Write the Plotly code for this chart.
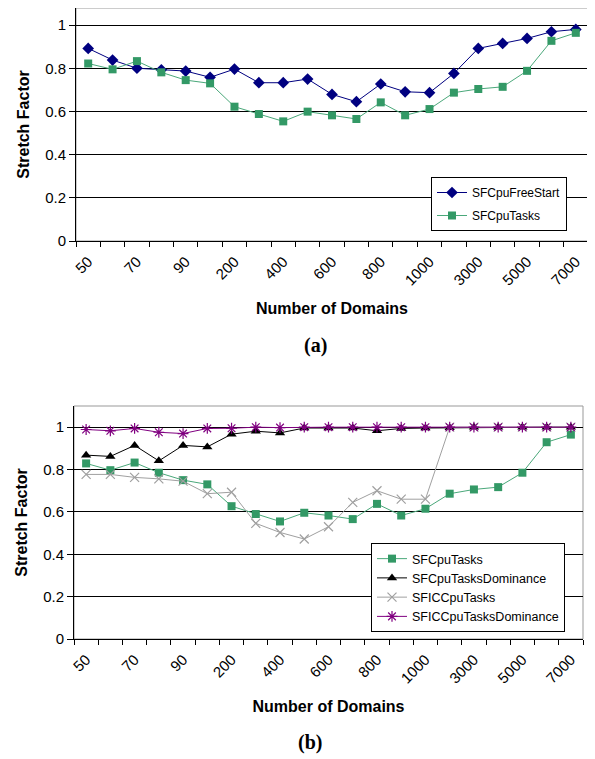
import plotly.graph_objects as go

domains = ["50", "60", "70", "80", "90", "100", "200", "300", "400", "500", "600",
           "700", "800", "900", "1000", "2000", "3000", "4000", "5000", "6000", "7000"]

# (a)
sf_cpu_free_start = [0.892, 0.838, 0.800, 0.793, 0.787, 0.758, 0.796, 0.733, 0.733, 0.750, 0.679,
                     0.645, 0.727, 0.691, 0.687, 0.776, 0.892, 0.915, 0.938, 0.969, 0.980]
sf_cpu_tasks_a = [0.822, 0.795, 0.833, 0.781, 0.745, 0.730, 0.622, 0.588, 0.554, 0.599, 0.582,
                  0.565, 0.642, 0.582, 0.611, 0.687, 0.704, 0.714, 0.788, 0.927, 0.964]

# (b)
sf_cpu_tasks_b = [0.829, 0.797, 0.833, 0.785, 0.750, 0.730, 0.627, 0.590, 0.555, 0.596, 0.583,
                  0.566, 0.638, 0.583, 0.615, 0.686, 0.706, 0.717, 0.785, 0.929, 0.965]
sf_cpu_tasks_dom = [0.868, 0.862, 0.914, 0.841, 0.914, 0.907, 0.967, 0.981, 0.973, 0.996, 0.996,
                    0.996, 0.983, 0.994, 0.996, 0.997, 1.0, 1.0, 1.0, 1.0, 1.0]
sfic_cpu_tasks = [0.777, 0.777, 0.763, 0.756, 0.745, 0.686, 0.693, 0.546, 0.503, 0.472, 0.530,
                  0.645, 0.700, 0.660, 0.660, 1.0, 1.0, 1.0, 1.0, 1.0, 1.0]
sfic_cpu_tasks_dom = [0.989, 0.983, 0.994, 0.976, 0.970, 0.994, 0.995, 1.0, 0.998, 1.0, 1.0,
                      1.0, 1.0, 1.0, 1.0, 1.0, 1.0, 1.0, 1.0, 1.0, 1.0]

y_ticks = [0, 0.2, 0.4, 0.6, 0.8, 1]
y_ticktext = ["0", "0.2", "0.4", "0.6", "0.8", "1"]

idx = list(range(len(domains)))
FONT = "Liberation Sans, Arial, sans-serif"
SERIF = "Liberation Serif, Times New Roman, serif"

NAVY = "#000080"
GREEN = "#339966"
GREEN_L = "#4aa87a"
GRAY = "#a0a0a0"
PURPLE = "#800080"

fig = go.Figure()

# Subplot (a)
fig.add_trace(go.Scatter(x=idx, y=sf_cpu_free_start, name="SFCpuFreeStart", mode="lines+markers",
                         line=dict(color=NAVY, width=1), marker=dict(symbol="diamond", size=9, color=NAVY),
                         xaxis="x", yaxis="y", legend="legend", legendgroup="a1"))
fig.add_trace(go.Scatter(x=idx, y=sf_cpu_tasks_a, name="SFCpuTasks", mode="lines+markers",
                         line=dict(color=GREEN_L, width=1), marker=dict(symbol="square", size=8, color=GREEN),
                         xaxis="x", yaxis="y", legend="legend", legendgroup="a2"))

# Subplot (b)
fig.add_trace(go.Scatter(x=idx, y=sf_cpu_tasks_b, name="SFCpuTasks", mode="lines+markers",
                         line=dict(color=GREEN_L, width=1), marker=dict(symbol="square", size=8, color=GREEN),
                         xaxis="x2", yaxis="y2", legend="legend2"))
fig.add_trace(go.Scatter(x=idx, y=sf_cpu_tasks_dom, name="SFCpuTasksDominance", mode="lines+markers",
                         line=dict(color="black", width=1), marker=dict(symbol="triangle-up", size=9, color="black"),
                         xaxis="x2", yaxis="y2", legend="legend2"))
fig.add_trace(go.Scatter(x=idx, y=sfic_cpu_tasks, name="SFICCpuTasks", mode="lines+markers",
                         line=dict(color=GRAY, width=1),
                         marker=dict(symbol="x-thin-open", size=9, color=GRAY, line=dict(color=GRAY, width=1.2)),
                         xaxis="x2", yaxis="y2", legend="legend2"))
fig.add_trace(go.Scatter(x=idx, y=sfic_cpu_tasks_dom, name="SFICCpuTasksDominance", mode="lines+markers",
                         line=dict(color=PURPLE, width=1),
                         marker=dict(symbol="asterisk-open", size=9, color=PURPLE, line=dict(color=PURPLE, width=1.2)),
                         xaxis="x2", yaxis="y2", legend="legend2"))

# page body has an 8px margin; figure is sized/positioned to compensate
OFF = 8
W, H = 595 - OFF, 759 - OFF


def px(x):
    return (x - OFF) / W


def py(y):
    return (H - (y - OFF)) / H


def xaxis_cfg(x0, x1, anchor):
    return dict(domain=[px(x0), px(x1)], anchor=anchor, range=[-0.5, len(domains) - 0.5],
                automargin=False,
                tickmode="array", tickvals=idx[::2], ticktext=domains[::2], tickangle=-45,
                ticks="outside", ticklen=5, tickcolor="rgba(0,0,0,0)",
                minor=dict(tickmode="linear", tick0=-0.5, dtick=1, ticks="outside", ticklen=5,
                           tickcolor="black", tickwidth=1, showgrid=False),
                showgrid=False, zeroline=False, showline=True, linecolor="black", linewidth=1,
                tickfont=dict(family=FONT, size=15, color="black"),
                title=dict(text="<b>Number of Domains</b>", font=dict(family=FONT, size=16, color="black")))


def yaxis_cfg(top, bottom, anchor, ymax):
    return dict(domain=[py(bottom), py(top)], anchor=anchor, range=[0, ymax],
                automargin="right",
                tickmode="array", tickvals=y_ticks, ticktext=y_ticktext,
                ticks="outside", ticklen=6, tickcolor="black",
                showgrid=True, gridcolor="black", gridwidth=1, zeroline=False,
                showline=True, linecolor="black", linewidth=1,
                tickfont=dict(family=FONT, size=15, color="black"),
                title=dict(text="<b>Stretch Factor</b>", font=dict(family=FONT, size=16, color="black"),
                           standoff=11))


fig.update_layout(
    width=W, height=H,
    margin=dict(l=0, r=0, t=0, b=0),
    paper_bgcolor="white", plot_bgcolor="white",
    xaxis=xaxis_cfg(76, 588, "y"),
    yaxis=yaxis_cfg(OFF, 241, "x", 1.079),
    xaxis2=xaxis_cfg(74, 583, "y2"),
    yaxis2=yaxis_cfg(406, 639, "x2", 1.1),
    legend=dict(x=px(567), y=py(231), xanchor="right", yanchor="bottom",
                bgcolor="white", bordercolor="black", borderwidth=1,
                font=dict(family=FONT, size=12, color="black"), tracegroupgap=4,
                itemwidth=30),
    legend2=dict(x=px(565), y=py(632), xanchor="right", yanchor="bottom",
                 bgcolor="white", bordercolor="black", borderwidth=1,
                 font=dict(family=FONT, size=12.5, color="black"), tracegroupgap=0,
                 itemwidth=30),
    shapes=[
        dict(type="rect", xref="x domain", yref="y domain", x0=0, x1=1, y0=0, y1=1,
             line=dict(color="#999999", width=1), layer="below"),
        dict(type="rect", xref="x2 domain", yref="y2 domain", x0=0, x1=1, y0=0, y1=1,
             line=dict(color="#999999", width=1), layer="below"),
    ],
    annotations=[
        dict(text="<b>(a)</b>", x=px(315), y=py(345), xref="paper", yref="paper",
             xanchor="center", yanchor="middle",
             showarrow=False, font=dict(family=SERIF, size=20, color="black")),
        dict(text="<b>(b)</b>", x=px(310), y=py(742), xref="paper", yref="paper",
             xanchor="center", yanchor="middle",
             showarrow=False, font=dict(family=SERIF, size=20, color="black")),
    ],
)

fig.write_html("out.html")
